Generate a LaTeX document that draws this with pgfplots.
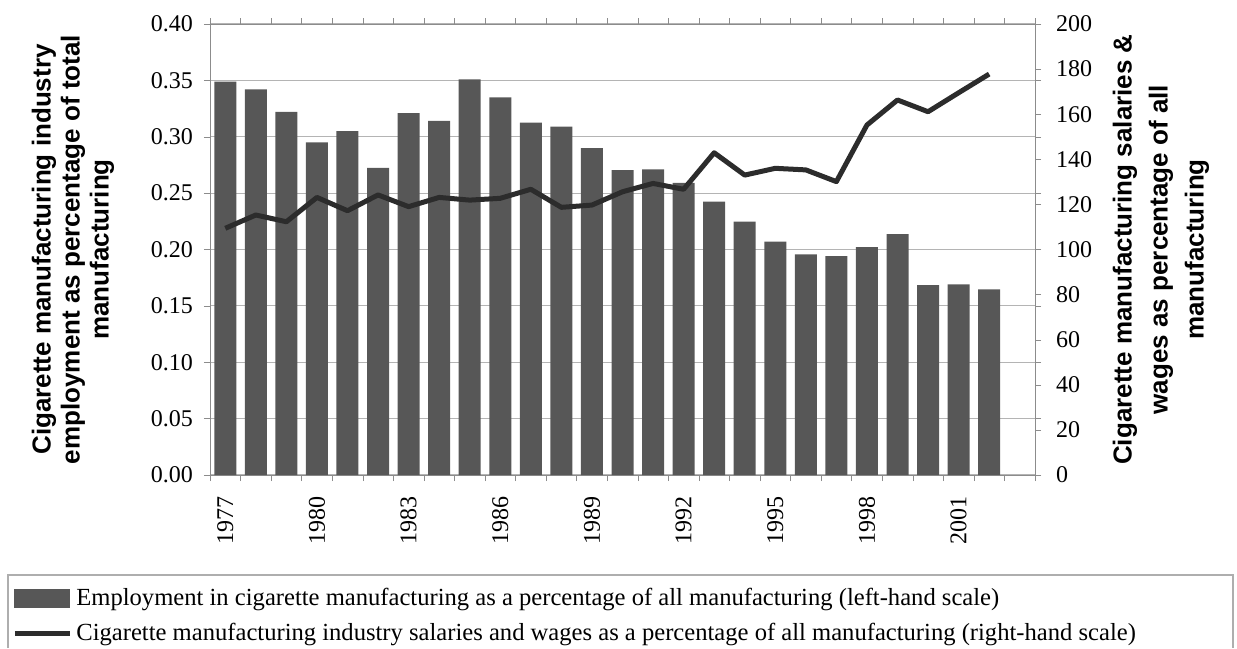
\documentclass[border=0pt]{standalone}
\usepackage{pgfplots}
\pgfplotsset{compat=1.18}
\usepackage{fontspec}
\setmainfont{Liberation Serif}
\newfontfamily\labfont{Liberation Sans}

\definecolor{barfill}{HTML}{575757}
\definecolor{linecol}{HTML}{2C2C2C}
\definecolor{gridcol}{HTML}{B4B4B4}
\definecolor{framecol}{HTML}{8C8C8C}

\pgfplotsset{
  common/.style={
    width=412.5pt, height=225.5pt, scale only axis,
    xmin=-0.5, xmax=26.5,
    /pgf/number format/assume math mode=true,
    tick label style={font=\fontsize{12}{14}\selectfont},
    tick align=outside,
    major tick length=3pt,
    label style={font=\labfont\bfseries\fontsize{13}{14.5}\selectfont, align=center},
  }
}

\begin{document}
\begin{tikzpicture}
% left-hand scale: employment share (bars)
\begin{axis}[common, name=ax,
  ymin=0, ymax=0.40,
  ytick={0,0.05,0.10,0.15,0.20,0.25,0.30,0.35,0.40},
  y tick label style={/pgf/number format/.cd, fixed, fixed zerofill, precision=2},
  ymajorgrids, grid style={gridcol, line width=0.6pt},
  axis line style={framecol},
  xtick={0,3,...,24},
  xticklabels={1977,1980,1983,1986,1989,1992,1995,1998,2001},
  x tick label style={rotate=90, anchor=east},
  xticklabel shift=4pt,
  yticklabel shift=2pt,
  major x tick style={draw=none},
  minor xtick={-0.5,0.5,...,26.5},
  minor x tick style={framecol},
  minor tick length=3pt,
  y tick style={framecol},
  ylabel={Cigarette manufacturing industry\\employment as percentage of total\\manufacturing},
  ylabel style={at={(axis description cs:-0.166,0.5)}, anchor=center},
]
\addplot[ybar, bar width=0.72, fill=barfill, draw=none] coordinates {
  (0,0.349) (1,0.342) (2,0.322) (3,0.295) (4,0.305) (5,0.2725)
  (6,0.321) (7,0.314) (8,0.351) (9,0.335) (10,0.3125) (11,0.309)
  (12,0.290) (13,0.2705) (14,0.271) (15,0.259) (16,0.2424) (17,0.2247)
  (18,0.207) (19,0.1957) (20,0.1942) (21,0.202) (22,0.2137) (23,0.1685)
  (24,0.169) (25,0.1647)
};
\end{axis}

% right-hand scale: salaries and wages (line)
\begin{axis}[common,
  axis y line*=right, axis x line=none,
  ymin=0, ymax=200, ytick={0,20,...,200},
  yticklabel shift=4pt,
  y axis line style={framecol}, y tick style={framecol},
  ylabel={Cigarette manufacturing salaries \&\\wages as percentage of all\\manufacturing},
  ylabel style={at={(axis description cs:1.1527,0.5)}, anchor=center,
    font=\labfont\bfseries\fontsize{13}{18}\selectfont},
  legend cell align=left,
  legend style={draw=none, fill=none, at={(axis description cs:-0.2400,-0.245)},
    anchor=north west, inner sep=0pt, row sep=5.5pt,
    font=\fontsize{12.3}{14}\selectfont,
    nodes={inner xsep=2pt, inner ysep=1pt}},
]
\addlegendimage{legend image code/.code={\fill[barfill] (0pt,-4.5pt) rectangle (27.5pt,4.5pt);}}
\addlegendentry{Employment in cigarette manufacturing as a percentage of all manufacturing (left-hand scale)}
\addplot[linecol, line width=2.5pt, line join=round,
  legend image code/.code={\draw[linecol, line width=2.5pt] (0pt,0pt) -- (27.5pt,0pt);}]
  coordinates {
  (0,109.4) (1,115.3) (2,112.3) (3,123.1) (4,117.2) (5,124.2)
  (6,119.0) (7,123.1) (8,121.9) (9,122.7) (10,126.7) (11,118.7)
  (12,119.7) (13,125.6) (14,129.3) (15,126.7) (16,142.9) (17,133.0)
  (18,136.0) (19,135.3) (20,130.1) (21,155.2) (22,166.3) (23,161.1)
  (24,169.5) (25,177.8)
};
\addlegendentry{Cigarette manufacturing industry salaries and wages as a percentage of all manufacturing (right-hand scale)}
\end{axis}

% legend frame (open at the bottom, as cropped in the source)
\draw[framecol!70, line width=0.6pt]
  ([shift={(-101pt,-86.5pt)}]ax.south west) -- ([shift={(-101pt,-50pt)}]ax.south west)
  -- ([shift={(511.5pt,-50pt)}]ax.south west) -- ([shift={(511.5pt,-86.5pt)}]ax.south west);

\pgfresetboundingbox
\path[use as bounding box] ([shift={(-105pt,-86.5pt)}]ax.south west)
  rectangle ([shift={(513.5pt,237.5pt)}]ax.south west);
\end{tikzpicture}
\end{document}
